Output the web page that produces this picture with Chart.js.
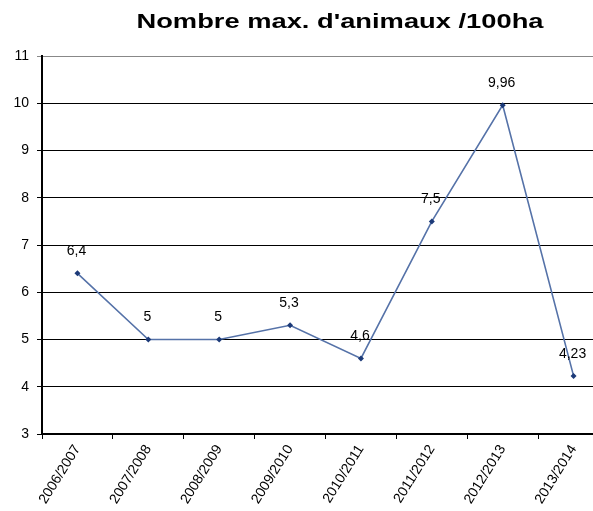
<!DOCTYPE html>
<html>
<head>
<meta charset="utf-8">
<script src="https://cdn.jsdelivr.net/npm/chart.js@4/dist/chart.umd.min.js"></script>
<style>
  html, body { margin: 0; padding: 0; background: #fff; overflow: hidden; }
  #wrap { position: relative; width: 593px; height: 511px; overflow: hidden; }
  #title {
    position: absolute; top: 9px; left: 140px; width: 400px; text-align: center;
    font: bold 21px "Liberation Sans", Arial, sans-serif; color: #000; white-space: nowrap;
    transform: scaleX(1.3); transform-origin: 200px 50%;
  }
  #box { position: absolute; left: 0; top: 0; width: 613px; height: 511px; }
</style>
</head>
<body>
<div id="wrap">
  <div id="box"><canvas id="myChart"></canvas></div>
  <div id="title">Nombre max. d'animaux /100ha</div>
</div>
<script>
// Data
const seasons = ["2006/2007", "2007/2008", "2008/2009", "2009/2010", "2010/2011", "2011/2012", "2012/2013", "2013/2014"];
const maxAnimals = [6.4, 5, 5, 5.3, 4.6, 7.5, 9.96, 4.23];
const yTicks = [3, 4, 5, 6, 7, 8, 9, 10, 11];

// small plugin writing the values above the points (french decimal comma)
const valueLabels = {
  id: "valueLabels",
  afterDatasetsDraw(chart) {
    const ctx = chart.ctx;
    const meta = chart.getDatasetMeta(0);
    ctx.save();
    ctx.font = "14px 'Liberation Sans', Arial, sans-serif";
    ctx.fillStyle = "#000";
    ctx.textAlign = "center";
    ctx.textBaseline = "middle";
    meta.data.forEach((pt, i) => {
      const txt = String(maxAnimals[i]).replace(".", ",");
      ctx.fillText(txt, pt.x - 1, pt.y - 22);
    });
    ctx.restore();
  }
};

const ctx = document.getElementById("myChart");

new Chart(ctx, {
  type: "line",
  data: {
    labels: seasons,
    datasets: [
      {
        data: maxAnimals,
        borderColor: "#5572a8",
        borderWidth: 1.6,
        pointStyle: "rectRot",
        pointRadius: 3,
        pointBackgroundColor: "#1c3a78",
        pointBorderColor: "#1c3a78",
        pointBorderWidth: 0,
        tension: 0,
      },
    ],
  },
  options: {
    responsive: true,
    maintainAspectRatio: false,
    animation: false,
    layout: { padding: { top: 56, right: 0, left: 0, bottom: 0 } },
    plugins: {
      legend: { display: false },
      title: { display: false },
      tooltip: { enabled: false },
    },
    scales: {
      x: {
        offset: true,
        grid: {
          offset: true,
          drawOnChartArea: false,
          drawTicks: true,
          tickLength: 5,
          color: "#000",
        },
        border: { color: "#000", width: 1.5 },
        ticks: {
          color: "#000",
          font: { family: "'Liberation Sans', Arial, sans-serif", size: 14 },
          maxRotation: 58,
          minRotation: 58,
          padding: 3,
        },
        afterFit(scale) { scale.height = 77; },
      },
      y: {
        min: 3,
        max: 11,
        afterBuildTicks(scale) { scale.ticks = yTicks.map(v => ({ value: v })); },
        grid: {
          color: (c) => (c.tick && c.tick.value === 11 ? "#888" : "#000"),
          lineWidth: 1,
          tickLength: 5,
        },
        border: { color: "#000", width: 2 },
        ticks: {
          color: "#000",
          font: { family: "'Liberation Sans', Arial, sans-serif", size: 14 },
          padding: 8,
        },
        afterFit(scale) { scale.width = 42; },
      },
    },
  },
  plugins: [valueLabels],
});
</script>
</body>
</html>
